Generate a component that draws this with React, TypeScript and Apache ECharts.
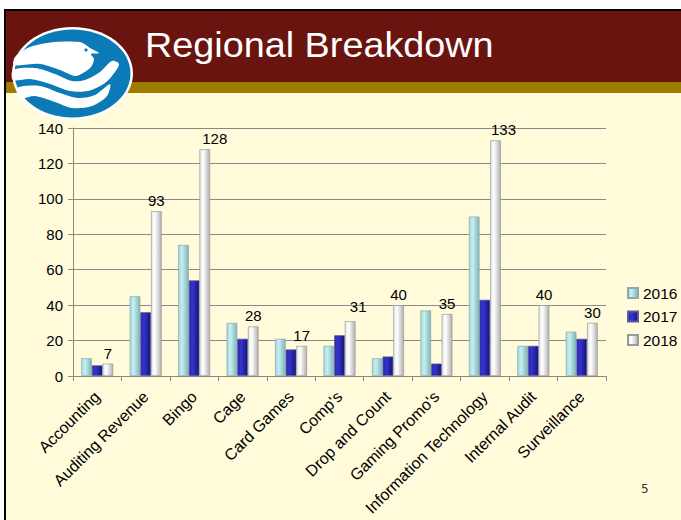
import React, { useEffect, useRef } from "react";
import * as echarts from "echarts";

const categories = [
  "Accounting",
  "Auditing Revenue",
  "Bingo",
  "Cage",
  "Card Games",
  "Comp's",
  "Drop and Count",
  "Gaming Promo's",
  "Information Technology",
  "Internal Audit",
  "Surveillance",
];
const seriesNames = ["2016", "2017", "2018"];
const values2016 = [10, 45, 74, 30, 21, 17, 10, 37, 90, 17, 25];
const values2017 = [6, 36, 54, 21, 15, 23, 11, 7, 43, 17, 21];
const values2018 = [7, 93, 128, 28, 17, 31, 40, 35, 133, 40, 30];
const yTicks = { min: 0, max: 140, interval: 20 };
const titleText = "Regional Breakdown";
const pageNumber = "5";

const FONT = "'Liberation Sans', Arial, sans-serif";

// label nudges applied to a few 2018 data labels (styling only)
const labelNudge: Record<number, [number, number]> = {
  2: [10, 0],
  5: [8, -4],
  8: [8, 0],
};

function grad(a: string, b: string, c: string) {
  return new echarts.graphic.LinearGradient(0, 0, 1, 0, [
    { offset: 0, color: a },
    { offset: 0.35, color: b },
    { offset: 1, color: c },
  ]);
}

export default function App() {
  const ref = useRef<HTMLDivElement>(null);
  useEffect(() => {
    if (!ref.current) return;
    const chart = echarts.init(ref.current, undefined, { renderer: "svg" });
    const logoBlue = "#0B7AB7";
    const band1 = [
      [15, 57], [30, 47], [55, 42], [80, 42], [86, 45], [90, 48], [99, 53],
      [91, 54], [94, 59], [91, 67], [83, 73], [75, 76], [60, 70], [40, 64], [14, 65],
    ];
    const band2 = [
      [13, 70], [35, 68], [55, 74], [72, 81], [85, 80], [100, 72], [112, 61],
      [119, 64], [115, 72], [105, 83], [88, 91], [70, 91], [50, 84], [30, 79], [13, 80],
    ];
    const band3 = [
      [17, 88], [40, 86], [60, 93], [78, 98], [95, 95], [110, 84],
      [107, 96], [92, 106], [72, 108], [55, 102], [35, 96], [20, 98],
    ];
    const data2018 = values2018.map((v, i) =>
      labelNudge[i] ? { value: v, label: { offset: labelNudge[i] } } : v
    );
    const option: any = {
      animation: false,
      backgroundColor: "#FFFFFF",
      textStyle: { fontFamily: FONT },
      graphic: [
        {
          type: "rect",
          z: -10,
          shape: { x: 5, y: 10, width: 720, height: 620 },
          style: { fill: "#FFFBDB", stroke: "#000000", lineWidth: 2 },
        },
        {
          type: "rect",
          z: -9,
          shape: { x: 6, y: 11, width: 700, height: 71 },
          style: { fill: "#6A1410" },
        },
        {
          type: "rect",
          z: -9,
          shape: { x: 6, y: 82, width: 700, height: 11 },
          style: { fill: "#9B7B00" },
        },
        {
          type: "ellipse",
          z: -8,
          shape: { cx: 72.5, cy: 73.5, rx: 60.5, ry: 46.5 },
          style: { fill: "#FFFFFF" },
        },
        {
          type: "ellipse",
          z: -8,
          shape: { cx: 72.5, cy: 73.5, rx: 58, ry: 44 },
          style: { fill: logoBlue },
        },
        {
          type: "polygon",
          z: -7,
          shape: { points: band1, smooth: 0.3 },
          style: { fill: "#FFFFFF" },
        },
        {
          type: "polygon",
          z: -7,
          shape: { points: band2, smooth: 0.3 },
          style: { fill: "#FFFFFF" },
        },
        {
          type: "polygon",
          z: -7,
          shape: { points: band3, smooth: 0.3 },
          style: { fill: "#FFFFFF" },
        },
        {
          type: "circle",
          z: -6,
          shape: { cx: 86, cy: 50, r: 1.6 },
          style: { fill: logoBlue },
        },
        {
          type: "text",
          z: 5,
          x: 145,
          y: 45,
          scaleX: 1.08,
          style: {
            text: titleText,
            fill: "#FFFFFF",
            font: `35px ${FONT}`,
            verticalAlign: "middle",
            align: "left",
          },
        },
        {
          type: "text",
          z: 5,
          x: 641,
          y: 489,
          style: {
            text: pageNumber,
            fill: "#333333",
            font: `12px 'DejaVu Sans', sans-serif`,
            verticalAlign: "middle",
            align: "left",
          },
        },
      ],
      legend: {
        orient: "vertical",
        left: 622,
        top: 279,
        itemWidth: 10,
        itemHeight: 10,
        itemGap: 5.5,
        icon: "rect",
        textStyle: { fontSize: 15.5, color: "#000", fontFamily: FONT, lineHeight: 18 },
        data: seriesNames,
      },
      grid: { left: 73, right: 75, top: 128, bottom: 144, containLabel: false },
      xAxis: {
        type: "category",
        data: categories,
        axisLine: { show: true, lineStyle: { color: "#8A8A8A", width: 1 } },
        axisTick: { show: true, length: 5, lineStyle: { color: "#8A8A8A" } },
        axisLabel: {
          interval: 0,
          rotate: 45,
          fontSize: 16,
          color: "#000",
          fontFamily: FONT,
          margin: 18,
          verticalAlign: "middle",
          align: "right",
        },
      },
      yAxis: {
        type: "value",
        min: yTicks.min,
        max: yTicks.max,
        interval: yTicks.interval,
        axisLine: { show: true, lineStyle: { color: "#8A8A8A", width: 1 } },
        axisTick: { show: true, length: 5, lineStyle: { color: "#8A8A8A" } },
        axisLabel: { fontSize: 15, color: "#000", fontFamily: FONT, margin: 10 },
        splitLine: { show: true, lineStyle: { color: "#8A8A8A", width: 1 } },
      },
      series: [
        {
          name: seriesNames[0],
          type: "bar",
          data: values2016,
          barGap: "0%",
          barCategoryGap: "34%",
          itemStyle: {
            color: grad("#A2D8DC", "#C6EFF1", "#7FB4B8"),
            borderColor: "#8FA8AA",
            borderWidth: 0.7,
          },
        },
        {
          name: seriesNames[1],
          type: "bar",
          data: values2017,
          barGap: "0%",
          barCategoryGap: "34%",
          itemStyle: {
            color: grad("#2626B0", "#3434CC", "#141478"),
            borderColor: "#5A5A9A",
            borderWidth: 0.7,
          },
        },
        {
          name: seriesNames[2],
          type: "bar",
          data: data2018,
          barGap: "0%",
          barCategoryGap: "34%",
          itemStyle: {
            color: grad("#E6E6E6", "#FFFFFF", "#B0B0B0"),
            borderColor: "#9A9A9A",
            borderWidth: 0.7,
          },
          label: {
            show: true,
            position: "top",
            distance: 3,
            fontSize: 15,
            color: "#000",
            fontFamily: FONT,
          },
        },
      ],
    };
    chart.setOption(option);
    return () => chart.dispose();
  }, []);
  return (
    <div
      ref={ref}
      style={{ position: "absolute", left: 0, top: 0, width: 681, height: 520 }}
    />
  );
}
